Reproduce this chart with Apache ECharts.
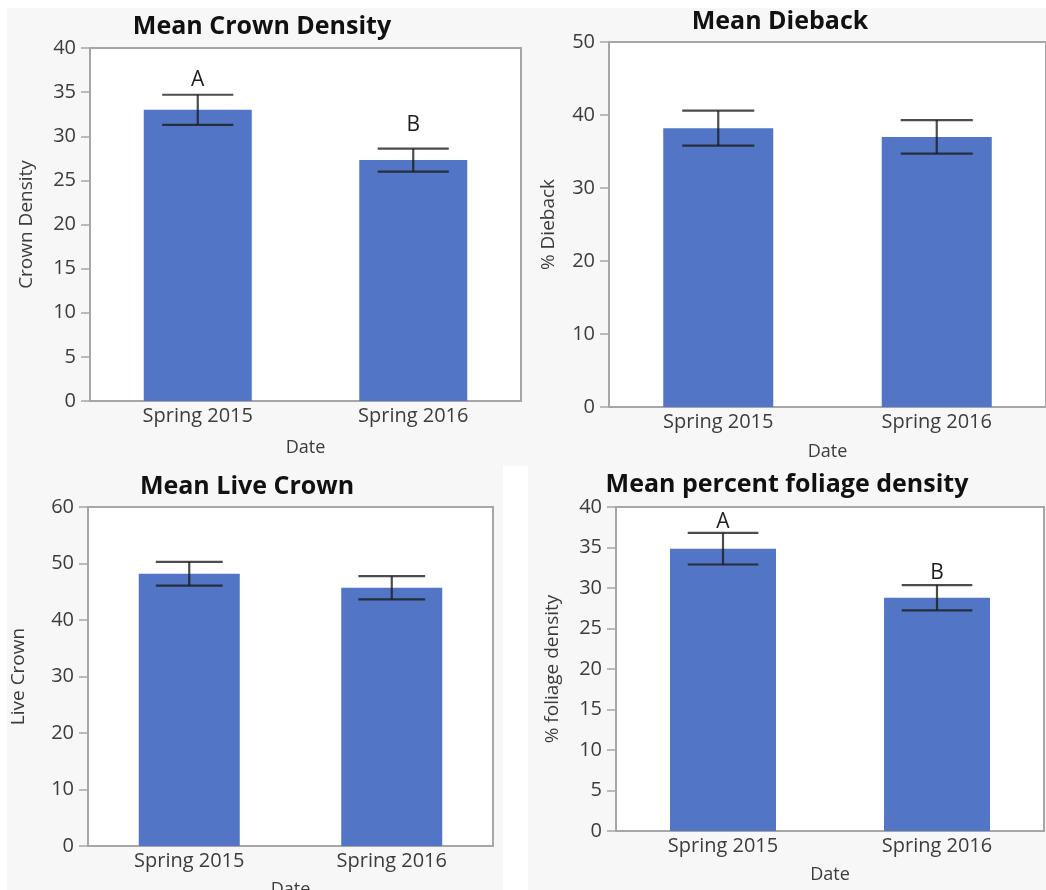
<!DOCTYPE html>
<html>
<head>
<meta charset="utf-8">
<script src="https://cdn.jsdelivr.net/npm/echarts@6/dist/echarts.min.js"></script>
<style>
  html, body { margin: 0; padding: 0; background: #ffffff; }
  #chart { width: 1046px; height: 890px; }
</style>
</head>
<body>
<div id="chart"></div>
<script>
// Survey dates shared by every panel
const categories = ['Spring 2015', 'Spring 2016'];

// Mean crown density with standard error and significance letters
const crownDensity = [33.0, 27.3];
const crownDensityErr = [1.7, 1.3];
const crownDensityLetters = ['A', 'B'];

// Mean dieback (%) with standard error
const dieback = [38.2, 37.0];
const diebackErr = [2.4, 2.3];

// Mean live crown with standard error
const liveCrown = [48.2, 45.7];
const liveCrownErr = [2.1, 2.05];

// Mean percent foliage density with standard error and letters
const foliageDensity = [34.85, 28.8];
const foliageDensityErr = [1.95, 1.55];
const foliageDensityLetters = ['A', 'B'];

// Value-axis ranges and tick spacing for each panel
const crownTicks = { max: 40, interval: 5 };
const diebackTicks = { max: 50, interval: 10 };
const liveTicks = { max: 60, interval: 10 };
const foliageTicks = { max: 40, interval: 5 };

const FONT = '"Open Sans", "Noto Sans", sans-serif';
const BAR = '#5275c5';
const FRAME = '#a6a6a6';
const TEXT = '#3c3c3c';

const panels = [
  { title: 'Mean Crown Density', yName: 'Crown Density', values: crownDensity, errs: crownDensityErr,
    letters: crownDensityLetters, letterGap: [4, 13], ticks: crownTicks,
    grid: { left: 90, top: 48, width: 431, height: 353 }, titlePos: [262, 27], nameGap: 54, dateGap: 38, barWidth: 108 },
  { title: 'Mean Dieback', yName: '% Dieback', values: dieback, errs: diebackErr,
    letters: null, ticks: diebackTicks,
    grid: { left: 609, top: 42, width: 437, height: 365 }, titlePos: [780, 22], nameGap: 51, dateGap: 36, barWidth: 110 },
  { title: 'Mean Live Crown', yName: 'Live Crown', values: liveCrown, errs: liveCrownErr,
    letters: null, ticks: liveTicks,
    grid: { left: 88, top: 507, width: 405, height: 339 }, titlePos: [247, 487], nameGap: 60, dateGap: 35, barWidth: 101 },
  { title: 'Mean percent foliage density', yName: '% foliage density', values: foliageDensity, errs: foliageDensityErr,
    letters: foliageDensityLetters, letterGap: [0, 2], ticks: foliageTicks,
    grid: { left: 616, top: 507, width: 428, height: 324 }, titlePos: [787, 485], nameGap: 54, dateGap: 35, barWidth: 106 }
];

const grids = [], xAxes = [], yAxes = [], series = [], graphics = [];

// White margins around the grey panel background
graphics.push(
  { type: 'rect', shape: { x: 0, y: 0, width: 1046, height: 8 }, style: { fill: '#ffffff' }, silent: true },
  { type: 'rect', shape: { x: 0, y: 0, width: 7, height: 890 }, style: { fill: '#ffffff' }, silent: true },
  { type: 'rect', shape: { x: 503, y: 466, width: 25, height: 424 }, style: { fill: '#ffffff' }, silent: true }
);

panels.forEach((p, i) => {
  grids.push(Object.assign({
    show: true, backgroundColor: '#ffffff', borderColor: FRAME, borderWidth: 2,
    containLabel: false, outerBoundsMode: 'none'
  }, p.grid));

  xAxes.push({
    type: 'category', gridIndex: i, data: categories,
    name: 'Date', nameLocation: 'middle', nameGap: p.dateGap,
    nameTextStyle: { fontFamily: FONT, fontSize: 18, color: TEXT },
    axisLine: { lineStyle: { color: FRAME, width: 2 } },
    axisTick: { show: false },
    axisLabel: { fontFamily: FONT, fontSize: 20, color: TEXT, margin: 5 }
  });

  yAxes.push({
    type: 'value', gridIndex: i, min: 0, max: p.ticks.max, interval: p.ticks.interval,
    name: p.yName, nameLocation: 'middle', nameGap: p.nameGap,
    nameTextStyle: { fontFamily: FONT, fontSize: 19, color: TEXT },
    axisLine: { show: true, lineStyle: { color: FRAME, width: 2 } },
    axisTick: { show: true, length: 9, lineStyle: { color: FRAME, width: 1.5 } },
    axisLabel: { fontFamily: FONT, fontSize: 20, color: TEXT, margin: 14 },
    splitLine: { show: false }
  });

  series.push({
    type: 'bar', xAxisIndex: i, yAxisIndex: i, data: p.values,
    barWidth: p.barWidth, itemStyle: { color: BAR }, silent: true
  });

  // Error bars (mean ± SE) with optional significance letters above them
  series.push({
    type: 'custom', xAxisIndex: i, yAxisIndex: i, clip: false, silent: true, z: 5,
    data: p.values.map((v, k) => [k, v - p.errs[k], v + p.errs[k]]),
    renderItem: function (params, api) {
      const k = api.value(0);
      const lo = api.coord([k, api.value(1)]);
      const hi = api.coord([k, api.value(2)]);
      const band = api.size([1, 0])[0];
      const half = band * 0.165;
      const line = { stroke: 'rgba(25,25,25,0.78)', lineWidth: 2.2 };
      const children = [
        { type: 'line', shape: { x1: hi[0], y1: hi[1], x2: lo[0], y2: lo[1] }, style: line },
        { type: 'line', shape: { x1: hi[0] - half, y1: hi[1], x2: hi[0] + half, y2: hi[1] }, style: line },
        { type: 'line', shape: { x1: lo[0] - half, y1: lo[1], x2: lo[0] + half, y2: lo[1] }, style: line }
      ];
      if (p.letters) {
        children.push({
          type: 'text',
          style: {
            x: hi[0], y: hi[1] - p.letterGap[k], text: p.letters[k],
            align: 'center', verticalAlign: 'bottom',
            font: '21px ' + FONT, fill: '#1e1e1e'
          }
        });
      }
      return { type: 'group', children: children };
    }
  });

  graphics.push({
    type: 'text', silent: true,
    style: {
      x: p.titlePos[0], y: p.titlePos[1], text: p.title,
      align: 'center', verticalAlign: 'middle',
      font: 'bold 25px ' + FONT, fill: '#111111'
    }
  });
});

const chart = echarts.init(document.getElementById('chart'), null, { renderer: 'canvas' });
chart.setOption({
  backgroundColor: '#f7f7f7',
  animation: false,
  grid: grids,
  xAxis: xAxes,
  yAxis: yAxes,
  series: series,
  graphic: graphics
});
</script>
</body>
</html>
